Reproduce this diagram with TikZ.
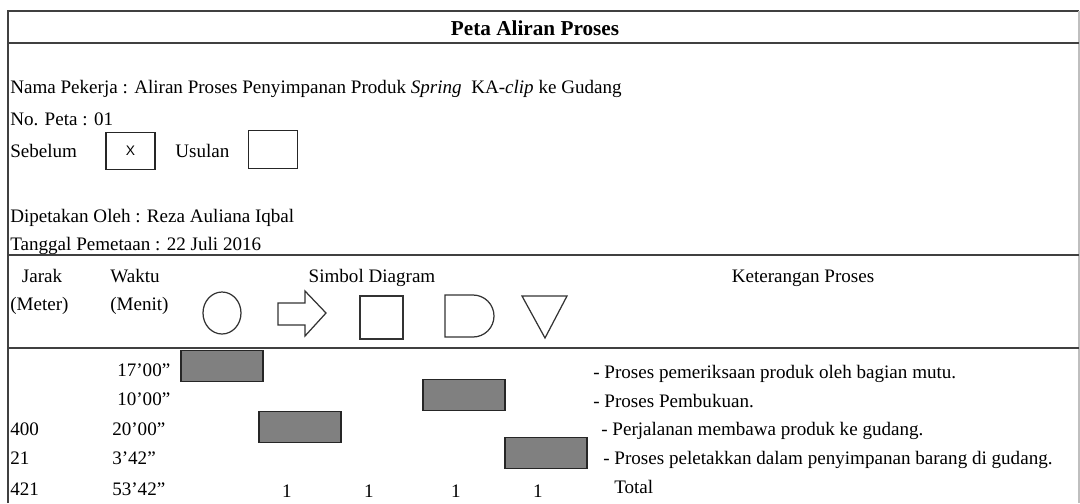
\documentclass[tikz,border=0pt]{standalone}
\usepackage{fontspec}
\setmainfont{Liberation Serif}
\newfontfamily\boxfont{Liberation Sans}
\usetikzlibrary{positioning}
\tikzstyle{txt}=[inner sep=0pt,anchor=base west,font=\fontsize{12.4}{14}\selectfont]
\tikzstyle{ctxt}=[inner sep=0pt,anchor=base,font=\fontsize{12.4}{14}\selectfont]
\tikzstyle{rule}=[draw=black!75,line width=1.3pt]
\tikzstyle{sym}=[draw=black!80,line width=0.8pt]
\tikzstyle{bar}=[draw=black!85,fill=black!50,line width=0.9pt,minimum width=53.3pt,minimum height=20pt,inner sep=0pt]
\tikzstyle{tick}=[draw=black!85,line width=0.8pt,minimum width=31.8pt,minimum height=24.5pt,inner sep=0pt]

\begin{document}
\begin{tikzpicture}[x=0.65pt,y=-0.65pt]
						\useasboundingbox (0,0) rectangle (1080,503);
						% First we draw the frame and the rules
						\draw[rule] (8,503) -- (8,11) -- (1079,11);
						\draw[draw=black!25,line width=1pt] (1079,11) -- (1079,503);
						\foreach \y in {43,255,348}
						\draw[rule] (8,\y) -- (1079,\y);
						
						% Title and head data
						\node[txt,anchor=base,font=\bfseries\fontsize{13.8}{16}\selectfont] (title) at (535,35) {Peta Aliran Proses};
						\node[txt] (nama) at (10,93) {Nama Pekerja : Aliran Proses Penyimpanan Produk \textit{Spring}\ \ KA-\textit{clip} ke Gudang};
						\node[txt] (nopeta) at (10,125) {No. Peta : 01};
						\node[txt] (sebelum) at (10,157) {Sebelum};
						\node[tick] (xbox) at (130.5,151) {\boxfont\fontsize{9}{10}\selectfont X};
						\node[txt] (usulan) at (175,157) {Usulan};
						\node[tick] (ubox) at (273,149.5) {};
						\node[txt] (oleh) at (10,222) {Dipetakan Oleh : Reza Auliana Iqbal};
						\node[txt] (tanggal) at (10,250) {Tanggal Pemetaan : 22 Juli 2016};
						
						% Column heads
						\node[ctxt] (jarak) at (42,282) {Jarak};
						\node[txt] (waktu) at (110,282) {Waktu};
						\node[ctxt] (simbol) at (372,282) {Simbol Diagram};
						\node[ctxt] (ket) at (803,282) {Keterangan Proses};
						\node[txt] (meter) at (10,310) {(Meter)};
						\node[txt] (menit) at (110,310) {(Menit)};
						
						% Chart symbols
						\draw[sym] (222,313) ellipse [x radius=19, y radius=21];
						\draw[sym] (278,303) -- (305,303) -- (305,291) -- (326,313) -- (305,336) -- (305,325) -- (278,325) -- cycle;
						\draw[sym] (360,296) rectangle (403,339);
						\draw[sym] (445,295) -- (473,295) arc[start angle=-90,end angle=90,radius=21] -- (445,337) -- cycle;
						\draw[sym] (522,296) -- (567,296) -- (545,338) -- cycle;
						
						% Rows: time, distance and note
						\foreach \pos/\name/\val in {{(117,376)/w1/17’00”}, {(117,405)/w2/10’00”}, {(112,435)/w3/20’00”}, {(112,464)/w4/3’42”}, {(112,495)/w5/53’42”}}
						\node[txt] (\name) at \pos {\val};
						\foreach \pos/\name/\val in {{(10,435)/j3/400}, {(10,464)/j4/21}, {(10,495)/j5/421}}
						\node[txt] (\name) at \pos {\val};
						\foreach \pos/\name/\val in {{(593,378)/k1/- Proses pemeriksaan produk oleh bagian mutu.}, {(593,407)/k2/- Proses Pembukuan.}, {(601,435)/k3/- Perjalanan membawa produk ke gudang.}, {(603,464)/k4/- Proses peletakkan dalam penyimpanan barang di gudang.}, {(614,493)/k5/Total}}
						\node[txt] (\name) at \pos {\val};
						\foreach \x/\name in {287/n1, 369/n2, 456/n3, 538/n4}
						\node[ctxt] (\name) at (\x,497) {1};
						
						% Shaded bars under the symbols
						\foreach \pos/\name in {{(222,366)/bar1}, {(464,395)/bar2}, {(300,427)/bar3}, {(546,453)/bar4}}
						\node[bar] (\name) at \pos {};
					\end{tikzpicture}
\end{document}
